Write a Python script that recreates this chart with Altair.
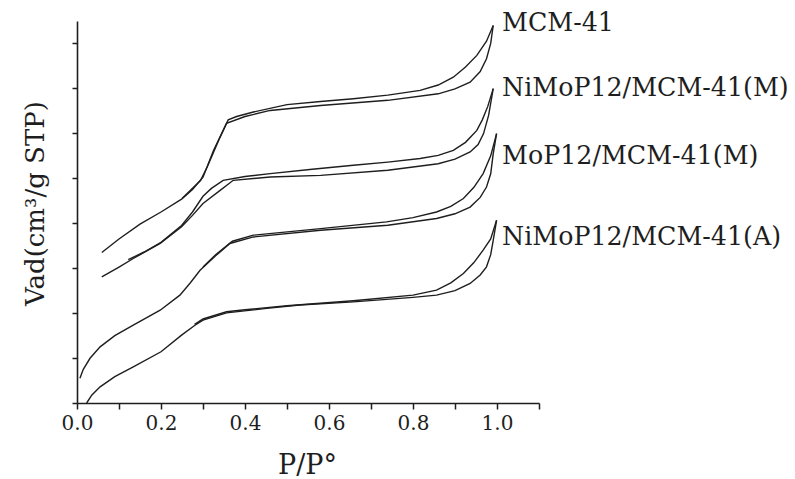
import altair as alt
import pandas as pd

series_names = ["MCM-41", "NiMoP12/MCM-41(M)", "MoP12/MCM-41(M)", "NiMoP12/MCM-41(A)"]

# MCM-41
mcm_ads_p = [0.059, 0.10, 0.15, 0.20, 0.249, 0.275, 0.30, 0.325, 0.356, 0.40, 0.46, 0.58, 0.74, 0.86, 0.90, 0.936, 0.96, 0.975, 0.985, 0.991]
mcm_ads_v = [6.70, 7.30, 7.96, 8.50, 9.07, 9.50, 10.05, 11.24, 12.45, 12.75, 13.02, 13.24, 13.47, 13.76, 13.98, 14.28, 14.75, 15.32, 16.0, 16.8]
mcm_des_p = [0.991, 0.975, 0.952, 0.925, 0.896, 0.86, 0.817, 0.74, 0.658, 0.58, 0.50, 0.42, 0.38, 0.36, 0.34, 0.31, 0.294, 0.25]
mcm_des_v = [16.8, 16.1, 15.47, 14.95, 14.5, 14.15, 13.91, 13.7, 13.54, 13.42, 13.28, 12.95, 12.75, 12.6, 11.8, 10.5, 9.9, 9.1]

# NiMoP12/MCM-41(M)
nmm_ads_p = [0.059, 0.10, 0.134, 0.198, 0.249, 0.275, 0.30, 0.34, 0.372, 0.46, 0.58, 0.74, 0.86, 0.90, 0.936, 0.955, 0.968, 0.98, 0.991]
nmm_ads_v = [5.61, 6.05, 6.43, 7.10, 7.84, 8.35, 8.88, 9.45, 9.91, 10.06, 10.13, 10.36, 10.65, 10.85, 11.17, 11.5, 11.99, 12.8, 13.99]
nmm_des_p = [0.991, 0.978, 0.965, 0.952, 0.925, 0.896, 0.86, 0.817, 0.74, 0.658, 0.56, 0.46, 0.40, 0.348, 0.32, 0.30, 0.275, 0.249, 0.20, 0.16, 0.122]
nmm_des_v = [13.99, 13.2, 12.6, 12.13, 11.6, 11.24, 11.02, 10.88, 10.72, 10.58, 10.4, 10.21, 10.08, 9.91, 9.55, 9.2, 8.5, 7.9, 7.15, 6.72, 6.38]

# MoP12/MCM-41(M)
mop_ads_p = [0.007, 0.015, 0.031, 0.055, 0.09, 0.134, 0.198, 0.245, 0.27, 0.293, 0.33, 0.364, 0.42, 0.58, 0.74, 0.856, 0.90, 0.936, 0.96, 0.975, 0.985, 0.991, 0.999]
mop_ads_v = [1.10, 1.50, 1.99, 2.50, 3.00, 3.47, 4.13, 4.80, 5.35, 5.91, 6.55, 7.10, 7.39, 7.69, 7.91, 8.21, 8.42, 8.72, 9.15, 9.61, 10.2, 11.1, 11.99]
mop_des_p = [0.999, 0.985, 0.967, 0.945, 0.92, 0.89, 0.856, 0.80, 0.737, 0.58, 0.42, 0.37, 0.33, 0.30]
mop_des_v = [11.99, 11.0, 10.21, 9.6, 9.10, 8.75, 8.5, 8.25, 8.06, 7.76, 7.47, 7.2, 6.6, 6.05]

# NiMoP12/MCM-41(A)
nma_ads_p = [0.023, 0.035, 0.055, 0.09, 0.134, 0.20, 0.249, 0.28, 0.30, 0.356, 0.452, 0.53, 0.658, 0.80, 0.856, 0.90, 0.936, 0.96, 0.975, 0.985, 0.991, 0.999]
nma_ads_v = [0.0, 0.35, 0.72, 1.17, 1.61, 2.28, 3.02, 3.45, 3.69, 4.01, 4.21, 4.36, 4.50, 4.70, 4.80, 5.0, 5.32, 5.7, 6.06, 6.6, 7.24, 8.13]
nma_des_p = [0.999, 0.985, 0.967, 0.945, 0.92, 0.89, 0.856, 0.80, 0.658, 0.50, 0.40, 0.356, 0.30, 0.28]
nma_des_v = [8.13, 7.3, 6.8, 6.25, 5.76, 5.35, 5.02, 4.8, 4.55, 4.33, 4.15, 4.06, 3.74, 3.5]

label_x = [1.012, 1.012, 1.012, 1.012]
label_y = [16.9, 14.0, 10.98, 7.38]

x_tick_values = [0.0, 0.1, 0.2, 0.3, 0.4, 0.5, 0.6, 0.7, 0.8, 0.9, 1.0, 1.1]
y_tick_values = list(range(0, 18))

branches = [
    (series_names[0], "ads", mcm_ads_p, mcm_ads_v),
    (series_names[0], "des", mcm_des_p, mcm_des_v),
    (series_names[1], "ads", nmm_ads_p, nmm_ads_v),
    (series_names[1], "des", nmm_des_p, nmm_des_v),
    (series_names[2], "ads", mop_ads_p, mop_ads_v),
    (series_names[2], "des", mop_des_p, mop_des_v),
    (series_names[3], "ads", nma_ads_p, nma_ads_v),
    (series_names[3], "des", nma_des_p, nma_des_v),
]
rows = []
for name, br, ps, vs in branches:
    for i, (p, v) in enumerate(zip(ps, vs)):
        rows.append({"series": name, "key": name + "|" + br, "i": i, "P": p, "V": v})
df = pd.DataFrame(rows)

labels_df = pd.DataFrame({"text": series_names, "x": label_x, "y": label_y})

FONT = "DejaVu Serif"
INK = "#1e1e1e"

x_scale = alt.Scale(domain=[0, 1.1], nice=False, zero=False)
y_scale = alt.Scale(domain=[0, 17], nice=False, zero=False)

x_axis = alt.Axis(
    values=x_tick_values,
    labelExpr="(round(datum.value*10) % 2 == 0 && datum.value < 1.05) ? format(datum.value, '.1f') : ''",
    title="P/P°",
    titleFont=FONT, titleFontSize=27, titleFontWeight="normal", titleColor=INK,
    titleX=230, titleY=62, titleAlign="center", titleBaseline="middle",
    labelFont=FONT, labelFontSize=20, labelColor=INK, labelPadding=4,
    labelFlush=False, labelOverlap=False,
    tickSize=6, tickWidth=1.5, tickColor=INK,
    domainColor=INK, domainWidth=1.6, grid=False,
)
y_axis = alt.Axis(
    values=y_tick_values,
    labels=False,
    title="Vad(cm³/g STP)",
    titleFont=FONT, titleFontSize=26, titleFontWeight="normal", titleColor=INK,
    titleAngle=270, titleX=-42, titleY=182, titleAlign="center", titleBaseline="middle",
    tickSize={"condition": {"test": "datum.value % 2 == 1", "value": 8}, "value": 5},
    tickWidth=1.5, tickColor=INK,
    domainColor=INK, domainWidth=1.6, grid=False,
)

lines = alt.Chart(df).mark_line(color=INK, strokeWidth=1.4).encode(
    x=alt.X("P:Q", scale=x_scale, axis=x_axis),
    y=alt.Y("V:Q", scale=y_scale, axis=y_axis),
    detail="key:N",
    order="i:Q",
)

texts = alt.Chart(labels_df).mark_text(
    align="left", baseline="middle", font=FONT, fontSize=25.3, color=INK
).encode(
    x=alt.X("x:Q", scale=x_scale),
    y=alt.Y("y:Q", scale=y_scale),
    text="text:N",
)

chart = alt.layer(lines, texts).properties(
    width=462, height=382,
    autosize=alt.AutoSizeParams(type="none"),
    padding={"left": 77, "top": 21, "right": 256, "bottom": 76},
    background="white",
).configure_view(strokeWidth=0)

chart.save("out.html", embed_options={"renderer": "svg", "actions": False})
